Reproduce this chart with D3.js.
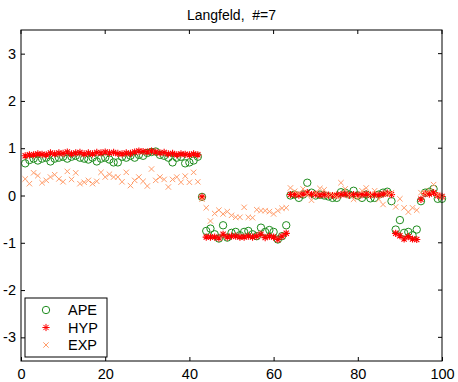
<!DOCTYPE html>
<html>
<head>
<meta charset="utf-8">
<script src="https://d3js.org/d3.v7.min.js"></script>
<style>
  body { margin: 0; background: #fff; }
  text { font-family: "Liberation Sans", Arial, Helvetica, sans-serif; white-space: pre; }
</style>
</head>
<body>
<div id="chart"></div>
<script>
// data, index 1..100
var ape = [0.68, 0.75, 0.78, 0.74, 0.78, 0.80, 0.72, 0.78, 0.80, 0.82,
    0.78, 0.82, 0.84, 0.80, 0.78, 0.76, 0.80, 0.72, 0.78, 0.80,
    0.76, 0.70, 0.70, 0.82, 0.80, 0.84, 0.80, 0.86, 0.84, 0.90,
    0.92, 0.93, 0.86, 0.84, 0.80, 0.70, 0.80, 0.82, 0.68, 0.70,
    0.74, 0.82, -0.03, -0.75, -0.70, -0.82, -0.91, -0.63, -0.89, -0.79,
    -0.77, -0.84, -0.77, -0.75, -0.82, -0.86, -0.68, -0.77, -0.73, -0.77,
    -0.93, -0.86, -0.63, 0.00, 0.02, -0.05, 0.02, 0.27, 0.06, 0.00,
    0.02, 0.00, -0.02, -0.05, -0.05, 0.07, 0.06, 0.02, 0.10, 0.00,
    -0.05, 0.02, -0.06, -0.05, 0.02, 0.06, 0.08, -0.12, -0.72, -0.52,
    -0.79, -0.77, -0.84, -0.72, -0.12, 0.06, 0.08, 0.14, -0.07, -0.07];

var hyp = [0.84, 0.86, 0.86, 0.88, 0.87, 0.86, 0.90, 0.88, 0.90, 0.89,
    0.92, 0.88, 0.90, 0.91, 0.88, 0.90, 0.88, 0.91, 0.90, 0.92,
    0.90, 0.91, 0.89, 0.88, 0.90, 0.89, 0.92, 0.94, 0.93, 0.92,
    0.94, 0.92, 0.90, 0.91, 0.88, 0.89, 0.86, 0.88, 0.87, 0.86,
    0.88, 0.86, -0.03, -0.88, -0.88, -0.88, -0.90, -0.82, -0.88, -0.86,
    -0.86, -0.88, -0.88, -0.86, -0.88, -0.86, -0.82, -0.89, -0.86, -0.88,
    -0.93, -0.86, -0.80, 0.02, 0.02, 0.01, 0.03, 0.06, 0.02, 0.03,
    0.01, 0.02, 0.01, 0.00, 0.01, 0.02, 0.03, 0.01, 0.02, 0.01,
    0.02, 0.03, 0.01, 0.02, 0.01, 0.03, 0.05, 0.02, -0.80, -0.85,
    -0.92, -0.87, -0.92, -0.93, -0.08, 0.04, 0.03, 0.06, 0.00, -0.02];

var exp = [0.35, 0.25, 0.48, 0.42, 0.27, 0.32, 0.39, 0.44, 0.35, 0.29,
    0.51, 0.34, 0.48, 0.25, 0.28, 0.32, 0.25, 0.30, 0.49, 0.39,
    0.45, 0.39, 0.39, 0.29, 0.49, 0.21, 0.32, 0.39, 0.30, 0.20,
    0.56, 0.32, 0.39, 0.34, 0.18, 0.34, 0.39, 0.28, 0.41, 0.28,
    0.49, 0.29, -0.08, -0.26, -0.54, -0.38, -0.31, -0.39, -0.34, -0.42,
    -0.46, -0.46, -0.25, -0.46, -0.47, -0.30, -0.32, -0.32, -0.34, -0.39,
    -0.32, -0.27, -0.26, 0.16, 0.09, 0.04, 0.14, 0.02, -0.10, 0.05,
    0.15, 0.12, 0.00, 0.02, -0.03, 0.27, 0.14, 0.00, -0.08, -0.05,
    0.10, 0.16, 0.02, 0.10, -0.08, -0.19, 0.04, 0.06, -0.24, -0.07,
    -0.26, -0.35, -0.26, -0.31, 0.06, 0.05, 0.10, 0.23, 0.02, -0.04];

var xTicks = [0, 20, 40, 60, 80, 100];
var yTicks = [-3, -2, -1, 0, 1, 2, 3];
var seriesNames = ["APE", "HYP", "EXP"];

var svgWidth = 458;
var svgHeight = 382;
var margin = { top: 30, right: 16, bottom: 21, left: 21 };
var width = svgWidth - margin.left - margin.right;
var height = svgHeight - margin.top - margin.bottom;

var svg = d3.select("#chart")
    .append("svg")
    .attr("width", svgWidth)
    .attr("height", svgHeight);

var chartGroup = svg.append("g")
    .attr("transform", `translate(${margin.left}, ${margin.top})`);

var xScale = d3.scaleLinear().domain([0, 100]).range([0, width]);
var yScale = d3.scaleLinear().domain([-3.5, 3.5]).range([height, 0]);

// marker shapes, matlab style
var circlePath = d3.symbol().type(d3.symbolCircle).size(Math.PI * 3.7 * 3.7)();
var starPath = "M-3.6,0L3.6,0M0,-3.6L0,3.6M-2.6,-2.6L2.6,2.6M-2.6,2.6L2.6,-2.6";
var crossPath = "M-2.7,-2.7L2.7,2.7M-2.7,2.7L2.7,-2.7";

var styles = {
    APE: { path: circlePath, color: "#1e8c1e", width: 1 },
    HYP: { path: starPath, color: "#ff0000", width: 1.1 },
    EXP: { path: crossPath, color: "#ff9d6b", width: 1 }
};
var seriesData = { APE: ape, HYP: hyp, EXP: exp };

// axes: ticks inside, on all four sides
var tickLen = 4;
var bottomAxis = d3.axisBottom(xScale).tickValues(xTicks).tickSize(tickLen).tickFormat(d => d);
var leftAxis = d3.axisLeft(yScale).tickValues(yTicks).tickSize(tickLen).tickFormat(d => (d < 0 ? "-" + Math.abs(d) : d));

var xAxis = chartGroup.append("g")
    .attr("transform", `translate(0, ${height})`)
    .call(bottomAxis);
xAxis.selectAll(".tick line").attr("y2", -tickLen);
xAxis.selectAll(".tick text").attr("y", 8).attr("dy", "0.71em");

var yAxis = chartGroup.append("g")
    .call(leftAxis);
yAxis.selectAll(".tick line").attr("x2", tickLen);
yAxis.selectAll(".tick text").attr("x", -5);

[xAxis, yAxis].forEach(function(ax) {
    ax.select(".domain").remove();
    ax.selectAll("text").attr("font-size", 14.5).attr("fill", "#000").attr("font-family", null);
    ax.selectAll(".tick line").attr("stroke", "#000");
});

// mirrored ticks on top and right
chartGroup.selectAll(".topTick")
    .data(xTicks)
    .enter()
    .append("line")
    .attr("x1", d => xScale(d)).attr("x2", d => xScale(d))
    .attr("y1", 0).attr("y2", tickLen)
    .attr("stroke", "#000");
chartGroup.selectAll(".rightTick")
    .data(yTicks)
    .enter()
    .append("line")
    .attr("x1", width).attr("x2", width - tickLen)
    .attr("y1", d => yScale(d)).attr("y2", d => yScale(d))
    .attr("stroke", "#000");

// points
seriesNames.forEach(function(name) {
    var st = styles[name];
    chartGroup.append("g")
        .selectAll("path")
        .data(seriesData[name])
        .enter()
        .append("path")
        .attr("transform", (d, i) => `translate(${xScale(i + 1)}, ${yScale(d)})`)
        .attr("d", st.path)
        .attr("fill", "none")
        .attr("stroke", st.color)
        .attr("stroke-width", st.width);
});

// frame
chartGroup.append("rect")
    .attr("x", 0).attr("y", 0)
    .attr("width", width).attr("height", height)
    .attr("fill", "none")
    .attr("stroke", "#000");

// title
svg.append("text")
    .attr("x", margin.left + width / 2)
    .attr("y", 20)
    .attr("text-anchor", "middle")
    .attr("font-size", 14)
    .text("Langfeld,  #=7");

// legend, lower left
var legend = chartGroup.append("g")
    .attr("transform", `translate(4, ${height - 63})`);
legend.append("rect")
    .attr("width", 82).attr("height", 59)
    .attr("fill", "#fff")
    .attr("stroke", "#000");
seriesNames.forEach(function(name, i) {
    var st = styles[name];
    var y = 12 + i * 17.5;
    legend.append("path")
        .attr("transform", `translate(21, ${y})`)
        .attr("d", st.path)
        .attr("fill", "none")
        .attr("stroke", st.color);
    legend.append("text")
        .attr("x", 43).attr("y", y)
        .attr("dy", "0.36em")
        .attr("font-size", 14.5)
        .text(name);
});
</script>
</body>
</html>
